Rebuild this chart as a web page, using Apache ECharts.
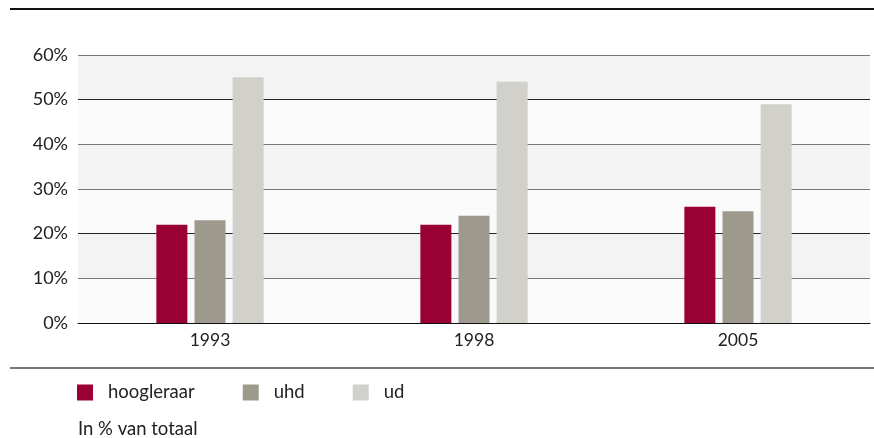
<!DOCTYPE html>
<html>
<head>
<meta charset="utf-8">
<script src="https://cdn.jsdelivr.net/npm/echarts@6/dist/echarts.min.js"></script>
<style>
    html, body { margin: 0; padding: 0; background: #fff; }
    #chart { width: 874px; height: 438px; }
</style>
</head>
<body>
<div id="chart"></div>
<script>
const years = ['1993', '1998', '2005']
const seriesNames = ['hoogleraar', 'uhd', 'ud']
const hoogleraar = [22, 22, 26]
const uhd = [23, 24, 25]
const ud = [55, 54, 49]
const colors = ['#990033', '#9e998d', '#d1d0cb']

const font = 'Lato, "Noto Sans", sans-serif'

let myChart = echarts.init(document.getElementById('chart'))

let option = {
    animation: false,
    textStyle: { fontFamily: font },
    color: colors,
    grid: {
        left: 78,
        right: 4,
        top: 55,
        bottom: 115,
    },
    title: {
        text: 'In % van totaal',
        left: 78,
        top: 420,
        padding: 0,
        textStyle: { fontFamily: font, fontSize: 18.5, fontWeight: 'normal', color: '#222' },
    },
    legend: {
        left: 77,
        top: 383,
        padding: 0,
        itemWidth: 16,
        itemHeight: 16,
        itemGap: 48,
        icon: 'rect',
        data: seriesNames,
        textStyle: { fontFamily: font, fontSize: 18.5, color: '#222', padding: [0, 0, 0, 10] },
    },
    xAxis: {
        type: 'category',
        data: years,
        axisLine: { lineStyle: { color: '#111', width: 1 } },
        axisTick: { length: 10, lineStyle: { color: '#111' } },
        axisLabel: { fontSize: 17.5, color: '#222', margin: 8 },
    },
    yAxis: {
        type: 'value',
        min: 0,
        max: 60,
        interval: 10,
        axisLine: { show: false },
        axisTick: { show: false },
        axisLabel: { formatter: '{value}%', fontSize: 18, color: '#222', margin: 10 },
        splitLine: { lineStyle: { color: ['#222', '#777', '#222', '#777', '#777', '#222', '#777'], width: 1 } },
        splitArea: { show: true, areaStyle: { color: ['#fafafa', '#f3f3f3'] } },
    },
    graphic: [
        { type: 'line', shape: { x1: 10, y1: 9, x2: 874, y2: 9 }, style: { stroke: '#111', lineWidth: 2 } },
        { type: 'line', shape: { x1: 10, y1: 368, x2: 874, y2: 368 }, style: { stroke: '#777', lineWidth: 2 } },
    ],
    series: [
        { name: seriesNames[0], type: 'bar', data: hoogleraar, barWidth: 31, barGap: '23%' },
        { name: seriesNames[1], type: 'bar', data: uhd, barWidth: 31, barGap: '23%' },
        { name: seriesNames[2], type: 'bar', data: ud, barWidth: 31, barGap: '23%' },
    ],
}

myChart.setOption(option, true)
</script>
</body>
</html>
